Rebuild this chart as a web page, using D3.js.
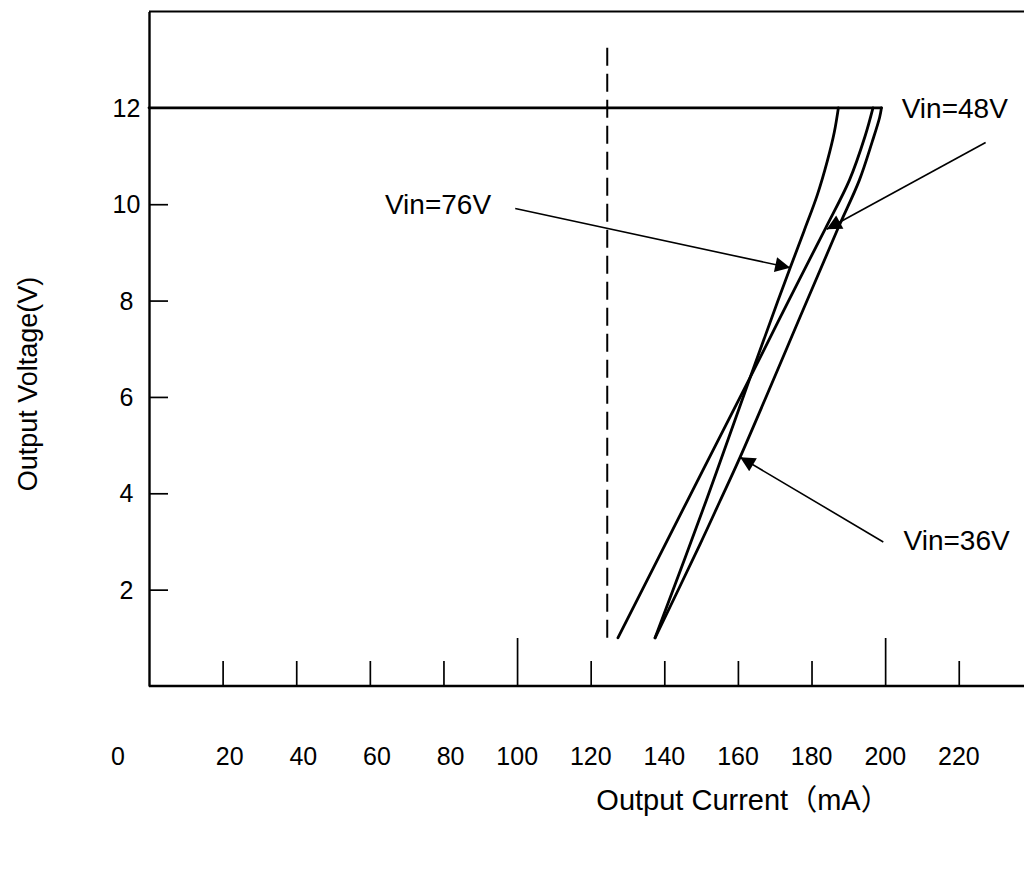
<!DOCTYPE html>
<html>
<head>
<meta charset="utf-8">
<script src="https://cdn.jsdelivr.net/npm/d3@7"></script>
<style>
    html, body { margin: 0; padding: 0; background: #fff; }
    svg { display: block; font-family: "Liberation Sans", Arial, "Noto Sans CJK JP", sans-serif; }
</style>
</head>
<body>
<div id="chart"></div>
<script>
// Output current (mA) vs output voltage (V).
var xTickValues = [20, 40, 60, 80, 100, 120, 140, 160, 180, 200, 220];
var xLongTicks = [100, 200];
var xLabelValues = [0, 20, 40, 60, 80, 100, 120, 140, 160, 180, 200, 220];
var yTickValues = [2, 4, 6, 8, 10];
var yLabelValues = [2, 4, 6, 8, 10, 12];

// regulated part: 12 V up to the current limit
var flatCurrent = [0, 199];
var flatVoltage = [12, 12];

var current76 = [137.5, 151.4, 163.3, 170.9, 174.2, 178.0, 181.6, 184.3, 186.2, 187.3];
var voltage76 = [1.0, 3.85, 6.4, 8.0, 8.68, 9.45, 10.2, 10.9, 11.5, 12.0];

var current48 = [127.4, 146.3, 163.3, 173.8, 183.8, 190.3, 194.5, 196.7];
var voltage48 = [1.0, 3.85, 6.4, 8.0, 9.5, 10.5, 11.4, 12.0];

var current36 = [137.5, 149.7, 155.2, 160.6, 178.8, 187.2, 193.0, 196.5, 198.5, 199.0];
var voltage36 = [1.0, 2.94, 3.85, 4.75, 8.0, 9.5, 10.5, 11.3, 11.8, 12.0];

// dashed marker
var dashCurrent = 124.5;
var dashVoltage = [1.0, 13.35];

// annotations: label anchor, arrow tail, arrow tip (current, voltage)
var annoText = ['Vin=76V', 'Vin=48V', 'Vin=36V'];
var annoLabel = [[64.1, 10.0], [204.5, 12.0], [205.0, 3.03]];
var annoTail = [[99.5, 9.91], [227.3, 11.28], [199.5, 2.99]];
var annoTip = [[174.2, 8.68], [184.1, 9.48], [160.6, 4.75]];

(function () {
    'use strict';

    var W = 1024, H = 871;
    var x = d3.scaleLinear().domain([0, 238]).range([149, 1025]);
    var y = d3.scaleLinear().domain([0, 14]).range([686, 11.5]);

    var svg = d3.select('#chart').append('svg')
        .attr('width', W)
        .attr('height', H)
        .attr('viewBox', '0 0 ' + W + ' ' + H);

    svg.append('rect').attr('width', W).attr('height', H).attr('fill', '#fff');

    svg.append('defs').append('marker')
        .attr('id', 'arrow')
        .attr('viewBox', '0 0 10 10')
        .attr('refX', 10).attr('refY', 5)
        .attr('markerWidth', 19).attr('markerHeight', 15)
        .attr('markerUnits', 'userSpaceOnUse')
        .attr('orient', 'auto')
        .append('path')
        .attr('d', 'M0,0 L10,5 L0,10 Z')
        .attr('fill', '#000');

    // top frame line
    svg.append('line')
        .attr('x1', x(0)).attr('x2', W)
        .attr('y1', y(14)).attr('y2', y(14))
        .attr('stroke', '#000').attr('stroke-width', 1.8);

    // x axis, ticks pointing up into the plot
    var xAxis = svg.append('g')
        .attr('transform', 'translate(0,' + y(0) + ')')
        .call(d3.axisBottom(x).tickValues(xTickValues).tickSize(-25).tickSizeOuter(0).tickFormat(''));
    xAxis.select('.domain').attr('stroke-width', 2.4).attr('d', 'M' + x(0) + ',0H' + W);
    xAxis.selectAll('.tick line')
        .attr('stroke-width', 1.7)
        .attr('y2', function (d) { return xLongTicks.indexOf(d) >= 0 ? -48 : -25; });

    // y axis, ticks pointing right
    var yAxis = svg.append('g')
        .attr('transform', 'translate(' + x(0) + ',0)')
        .call(d3.axisLeft(y).tickValues(yTickValues).tickSize(-19).tickSizeOuter(0).tickFormat(''));
    yAxis.select('.domain').attr('stroke-width', 2.4);
    yAxis.selectAll('.tick line').attr('stroke-width', 1.7);

    // tick labels
    svg.append('g').selectAll('text')
        .data(yLabelValues)
        .join('text')
        .attr('x', 126.5)
        .attr('y', function (d) { return y(d) + 9; })
        .attr('text-anchor', 'middle')
        .attr('font-size', 25)
        .text(function (d) { return d; });

    svg.append('g').selectAll('text')
        .data(xLabelValues)
        .join('text')
        .attr('x', function (d) { return d === 0 ? 118 : x(d) + 21; })
        .attr('y', 765)
        .attr('text-anchor', function (d) { return d === 0 ? 'middle' : 'end'; })
        .attr('font-size', 25)
        .text(function (d) { return d; });

    // axis titles
    svg.append('text')
        .attr('x', 743).attr('y', 810)
        .attr('text-anchor', 'middle')
        .attr('font-size', 29)
        .text('Output Current（mA）');

    svg.append('text')
        .attr('transform', 'translate(37,384) rotate(-90)')
        .attr('text-anchor', 'middle')
        .attr('font-size', 27)
        .text('Output Voltage(V)');

    // dashed line
    svg.append('line')
        .attr('x1', x(dashCurrent)).attr('x2', x(dashCurrent))
        .attr('y1', y(dashVoltage[0])).attr('y2', y(dashVoltage[1]))
        .attr('stroke', '#000').attr('stroke-width', 2)
        .attr('stroke-dasharray', '18,8');

    // curves
    var line = d3.line()
        .x(function (d) { return x(d[0]); })
        .y(function (d) { return y(d[1]); })
        .curve(d3.curveCatmullRom.alpha(0.5));

    var series = [
        d3.zip(flatCurrent, flatVoltage),
        d3.zip(current76, voltage76),
        d3.zip(current48, voltage48),
        d3.zip(current36, voltage36)
    ];

    svg.append('g').selectAll('path')
        .data(series)
        .join('path')
        .attr('d', line)
        .attr('fill', 'none')
        .attr('stroke', '#000')
        .attr('stroke-width', 2.8)
        .attr('stroke-linecap', 'round')
        .attr('stroke-linejoin', 'round');

    // annotations
    var anno = svg.append('g');
    annoText.forEach(function (t, i) {
        anno.append('line')
            .attr('x1', x(annoTail[i][0])).attr('y1', y(annoTail[i][1]))
            .attr('x2', x(annoTip[i][0])).attr('y2', y(annoTip[i][1]))
            .attr('stroke', '#000').attr('stroke-width', 1.6)
            .attr('marker-end', 'url(#arrow)');
        anno.append('text')
            .attr('x', x(annoLabel[i][0]))
            .attr('y', y(annoLabel[i][1]) + 10)
            .attr('font-size', 28)
            .text(t);
    });
})();
</script>
</body>
</html>
